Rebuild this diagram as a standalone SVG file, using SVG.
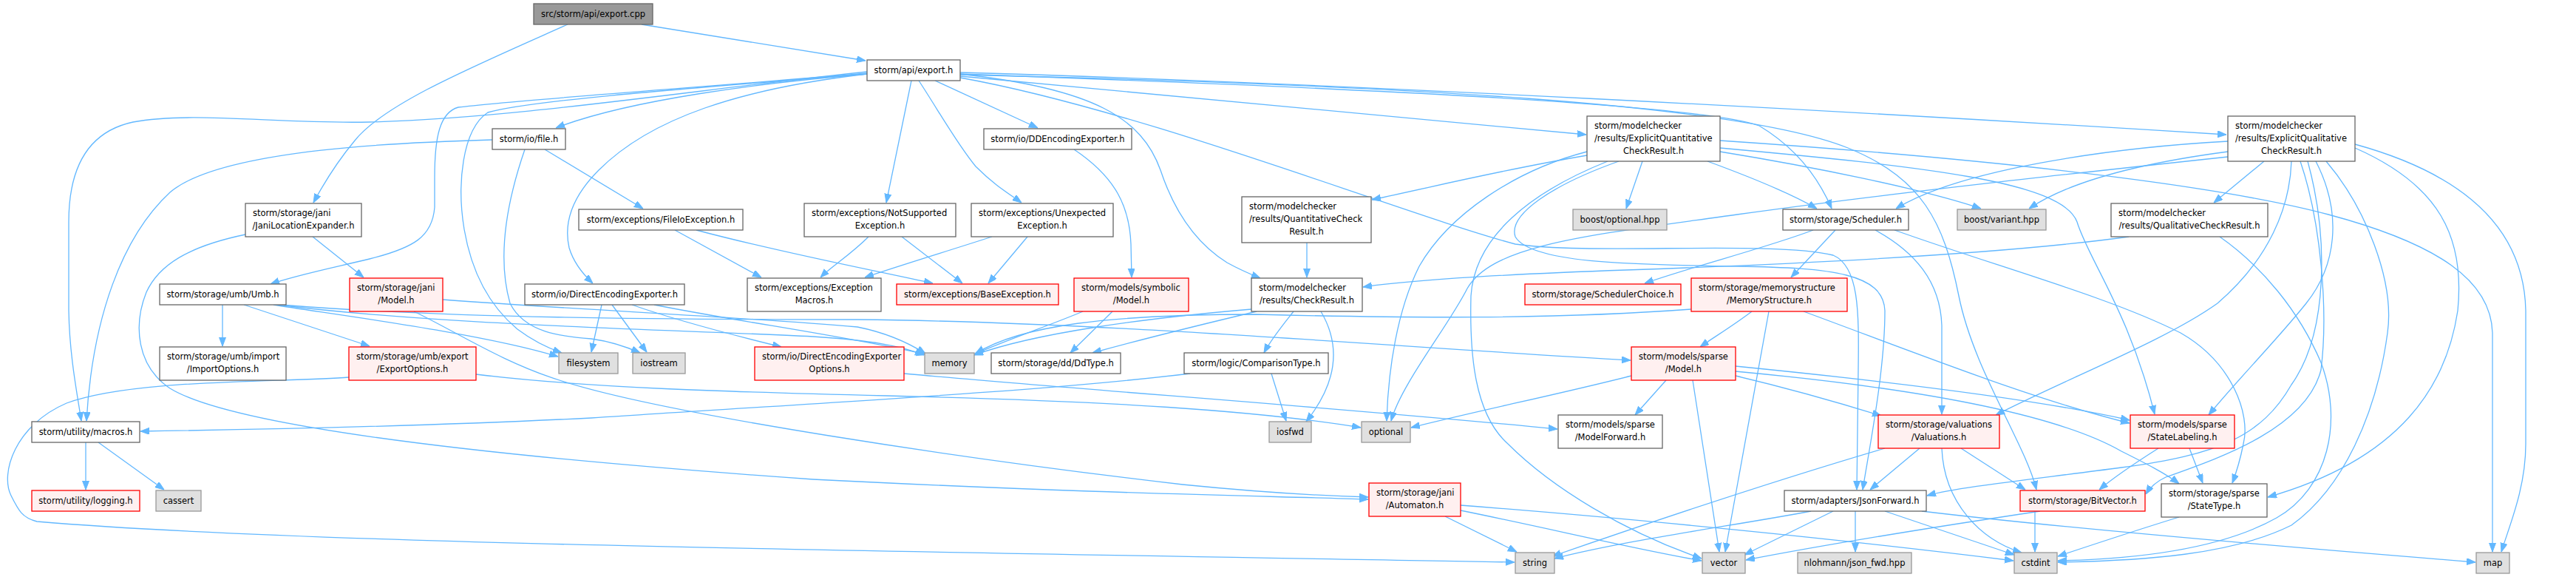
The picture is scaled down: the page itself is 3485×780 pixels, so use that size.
<svg xmlns="http://www.w3.org/2000/svg" width="3485" height="780" viewBox="0 0 3485 780">
<style>
text{font-family:"DejaVu Sans","Liberation Sans",sans-serif;font-size:11.5px;fill:#000}
.m{text-anchor:middle}
.n rect{fill:#fff;stroke:#666;stroke-width:1.3}
.r rect{fill:#fff0f0;stroke:#f00;stroke-width:1.3}
.g rect{fill:#e0e0e0;stroke:#999;stroke-width:1.3}
.root rect{fill:#999;stroke:#666;stroke-width:1.3}
#edges path{fill:none;stroke:#63b8ff;stroke-width:1.3;marker-end:url(#ah)}
</style>
<defs>
<marker id="ah" markerUnits="userSpaceOnUse" markerWidth="12" markerHeight="10" refX="12" refY="4.5" orient="auto"><path d="M0,0 L12,4.5 L0,9 z" fill="#63b8ff" stroke="#63b8ff" stroke-width="1"/></marker>
</defs>
<rect width="3485" height="780" fill="#fff"/>
<g id="edges">
<path d="M868,33 L1171,82"/>
<path d="M768,33 C640,90 520,140 480,190 C455,220 438,248 424,274"/>
<path d="M1173,100 C1030,112 850,135 752,173"/>
<path d="M1173,97 C950,120 700,160 500,165 C380,168 260,150 180,165 C110,180 93,240 93,300 L93,420 C94,480 104,530 110,569"/>
<path d="M1173,99 C950,118 700,135 620,145 C595,152 588,185 588,240 L588,280 C585,320 560,335 500,350 C450,362 400,372 366,384"/>
<path d="M1173,100 C950,118 720,135 660,152 C625,175 618,250 628,310 C640,380 670,420 700,445 C720,460 740,470 760,477"/>
<path d="M1173,100 C1000,120 880,160 810,230 C775,265 762,300 770,335 C776,355 788,370 802,383"/>
<path d="M1233,109 L1199,274"/>
<path d="M1243,109 C1270,150 1295,195 1320,225 C1345,250 1365,262 1382,274"/>
<path d="M1265,109 L1404,173"/>
<path d="M1299,100 C1480,120 1545,160 1570,230 C1590,290 1620,330 1660,355 C1680,366 1695,372 1705,376"/>
<path d="M1299,103 C1600,130 1900,160 2146,182"/>
<path d="M1299,98 C1800,112 2500,150 3012,182"/>
<path d="M1299,100 C1800,118 2300,140 2380,170 C2430,200 2460,240 2478,282"/>
<path d="M1299,105 C1550,150 1900,290 2050,330 C2150,345 2400,325 2480,345 C2515,360 2515,420 2514,500 L2512,662"/>
<path d="M1299,101 C1900,115 2350,140 2500,200 C2600,240 2630,300 2650,400 C2670,500 2740,600 2755,662"/>
<path d="M423,320 L492,375"/>
<path d="M332,317 C255,333 215,358 198,395 C180,440 185,495 230,525 C320,580 700,620 1100,648 C1500,668 1700,670 1851,675"/>
<path d="M560,421 C620,450 680,490 760,515 C900,560 1300,620 1600,655 C1700,665 1780,670 1851,672"/>
<path d="M737,202 L870,282"/>
<path d="M666,189 C560,192 300,200 230,260 C165,320 125,430 117,569"/>
<path d="M710,202 C690,260 670,340 690,410 C710,450 760,455 800,458 C830,462 850,470 866,477"/>
<path d="M913,311 L1030,375"/>
<path d="M942,311 C1050,340 1180,365 1262,383"/>
<path d="M1175,320 C1150,345 1125,360 1110,375"/>
<path d="M1220,320 L1302,383"/>
<path d="M1342,320 C1280,340 1220,358 1170,375"/>
<path d="M1390,320 L1337,383"/>
<path d="M1453,202 C1510,240 1528,280 1530,330 L1531,375"/>
<path d="M2147,210 C2030,230 1950,250 1856,270"/>
<path d="M2222,218 L2200,282"/>
<path d="M2327,205 C2450,225 2600,255 2680,282"/>
<path d="M2310,218 C2370,240 2420,260 2458,282"/>
<path d="M2147,205 C2050,230 1960,290 1920,360 C1890,420 1878,500 1876,569"/>
<path d="M2175,218 C2070,260 1995,320 1990,400 C1988,480 1995,560 2040,600 C2100,660 2200,720 2302,755"/>
<path d="M2190,218 C2100,250 2040,290 2050,320 C2070,355 2200,358 2350,360 C2480,362 2548,370 2550,420 C2550,500 2530,600 2520,662"/>
<path d="M2327,190 C2700,215 3000,250 3150,290 C3300,330 3370,380 3372,450 L3372,746"/>
<path d="M2327,200 C2600,225 2790,245 2810,300 C2825,350 2880,420 2915,560"/>
<path d="M3063,218 L2995,274"/>
<path d="M3014,191 C2850,200 2650,230 2565,282"/>
<path d="M3014,205 C2900,220 2800,245 2745,282"/>
<path d="M3014,212 C2800,235 2550,262 2350,290 C2150,318 2020,330 1985,390 C1960,440 1895,520 1882,569"/>
<path d="M3100,218 C3098,280 3070,350 3000,410 C2930,460 2800,510 2700,561"/>
<path d="M3112,218 C3140,300 3150,420 3140,500 C3120,580 3000,620 2930,645 C2915,652 2908,660 2903,668"/>
<path d="M3133,218 C3170,290 3160,360 3120,410 C3080,460 3030,510 2988,561"/>
<path d="M3186,200 C3300,250 3335,320 3325,420 C3310,520 3250,620 3068,672"/>
<path d="M3186,195 C3350,240 3415,320 3417,420 L3417,600 C3417,660 3395,710 3384,746"/>
<path d="M3147,218 C3200,280 3240,380 3230,450 C3215,560 3170,660 3100,710 C3020,750 2900,758 2784,760"/>
<path d="M3122,218 C3150,320 3150,450 3100,520 C3060,590 3000,615 2870,632 C2750,648 2650,658 2607,670"/>
<path d="M1768,328 L1768,375"/>
<path d="M2880,320 C2700,345 2400,358 2200,365 C2000,372 1900,380 1844,388"/>
<path d="M3003,320 C3060,360 3110,420 3140,490 C3170,570 3150,660 3080,700 C3000,745 2880,756 2784,758"/>
<path d="M301,412 L301,468"/>
<path d="M330,412 L500,468"/>
<path d="M370,412 C450,425 650,450 755,482"/>
<path d="M375,412 C600,440 900,445 1100,455 C1180,460 1220,468 1250,480"/>
<path d="M380,412 C600,430 900,432 1160,432 C1500,435 1900,470 2206,487"/>
<path d="M599,405 C800,420 1000,428 1160,442 C1200,450 1230,464 1252,478"/>
<path d="M814,412 L800,476"/>
<path d="M828,412 L875,476"/>
<path d="M855,412 C920,435 1000,455 1057,469"/>
<path d="M885,412 C1000,435 1150,455 1252,479"/>
<path d="M1223,505 C1500,530 1800,550 2107,580"/>
<path d="M644,506 C800,525 1000,530 1200,535 C1500,542 1700,555 1841,578"/>
<path d="M472,510 C380,517 180,512 90,545 C20,575 0,640 15,670 C25,690 30,700 50,705 C400,735 1200,745 2049,760"/>
<path d="M1465,421 C1420,440 1360,460 1318,479"/>
<path d="M1505,421 L1448,477"/>
<path d="M1693,418 C1550,430 1400,450 1318,480"/>
<path d="M1700,421 C1620,440 1540,460 1478,477"/>
<path d="M1750,421 C1735,440 1720,458 1710,477"/>
<path d="M1787,421 C1810,460 1815,510 1767,570"/>
<path d="M1720,505 L1740,569"/>
<path d="M1610,505 C1400,530 1100,545 800,565 C600,575 400,580 190,583"/>
<path d="M2453,311 C2390,335 2290,360 2225,383"/>
<path d="M2483,311 L2423,375"/>
<path d="M2537,311 C2590,340 2625,380 2627,440 L2627,560"/>
<path d="M2563,311 C2700,360 2850,400 2950,450 C3020,490 3045,560 3035,600 C3030,625 3025,640 3020,653"/>
<path d="M2288,418 C2100,432 1900,430 1700,425 C1500,425 1380,440 1320,478"/>
<path d="M2370,421 C2345,440 2320,455 2300,469"/>
<path d="M2393,421 L2334,746"/>
<path d="M2440,421 C2600,480 2750,540 2881,572"/>
<path d="M2207,508 C2100,535 2000,555 1909,578"/>
<path d="M2254,514 L2212,561"/>
<path d="M2290,514 L2326,746"/>
<path d="M2348,508 C2420,525 2490,545 2545,562"/>
<path d="M2348,495 C2600,520 2780,545 2881,568"/>
<path d="M2348,502 C2650,530 2800,570 2870,610 C2900,625 2930,640 2948,654"/>
<path d="M116,598 L116,662"/>
<path d="M133,598 L222,662"/>
<path d="M2597,606 L2530,662"/>
<path d="M2653,606 L2740,662"/>
<path d="M2627,606 C2630,680 2680,730 2735,747"/>
<path d="M2550,606 C2400,650 2250,700 2100,752"/>
<path d="M2920,606 C2890,625 2860,645 2840,662"/>
<path d="M2962,606 L2980,653"/>
<path d="M1955,698 L2052,746"/>
<path d="M1976,690 C2100,715 2200,740 2302,758"/>
<path d="M1976,683 C2200,700 2500,730 2724,758"/>
<path d="M2450,691 C2350,710 2200,730 2103,755"/>
<path d="M2480,691 L2360,750"/>
<path d="M2510,691 L2510,746"/>
<path d="M2550,691 L2725,750"/>
<path d="M2600,691 C2800,715 3100,740 3349,760"/>
<path d="M2760,691 C2600,715 2450,740 2362,757"/>
<path d="M2753,691 L2753,746"/>
<path d="M2948,699 C2880,720 2820,740 2784,752"/>
</g>
<g id="cpp" class="root"><rect x="722" y="5" width="161" height="28"/><text class="m" x="802.5" y="23">src/storm/api/export.cpp</text></g>
<g id="exph" class="n"><rect x="1173" y="81" width="126" height="28"/><text class="m" x="1236" y="99">storm/api/export.h</text></g>
<g id="file" class="n"><rect x="666" y="174" width="99" height="28"/><text class="m" x="715.5" y="192">storm/io/file.h</text></g>
<g id="ddEnc" class="n"><rect x="1331" y="174" width="200" height="28"/><text class="m" x="1431" y="192">storm/io/DDEncodingExporter.h</text></g>
<g id="expQuant" class="n"><rect x="2147" y="157" width="180" height="61"/><text x="2157" y="174">storm/modelchecker</text><text x="2157" y="191">/results/ExplicitQuantitative</text><text class="m" x="2237" y="208">CheckResult.h</text></g>
<g id="expQual" class="n"><rect x="3014" y="157" width="172" height="61"/><text x="3024" y="174">storm/modelchecker</text><text x="3024" y="191">/results/ExplicitQualitative</text><text class="m" x="3100" y="208">CheckResult.h</text></g>
<g id="janiLoc" class="n"><rect x="332" y="275" width="157" height="45"/><text x="342" y="292">storm/storage/jani</text><text class="m" x="410.5" y="309">/JaniLocationExpander.h</text></g>
<g id="fileIo" class="n"><rect x="783" y="283" width="222" height="28"/><text class="m" x="894" y="301">storm/exceptions/FileIoException.h</text></g>
<g id="notSup" class="n"><rect x="1088" y="275" width="205" height="45"/><text x="1098" y="292">storm/exceptions/NotSupported</text><text class="m" x="1190.5" y="309">Exception.h</text></g>
<g id="unexp" class="n"><rect x="1314" y="275" width="192" height="45"/><text x="1324" y="292">storm/exceptions/Unexpected</text><text class="m" x="1410" y="309">Exception.h</text></g>
<g id="quantCR" class="n"><rect x="1680" y="266" width="175" height="62"/><text x="1690" y="283">storm/modelchecker</text><text x="1690" y="300">/results/QuantitativeCheck</text><text class="m" x="1767.5" y="317">Result.h</text></g>
<g id="boostOpt" class="g"><rect x="2128" y="283" width="127" height="28"/><text class="m" x="2191.5" y="301">boost/optional.hpp</text></g>
<g id="sched" class="n"><rect x="2412" y="283" width="170" height="28"/><text class="m" x="2497" y="301">storm/storage/Scheduler.h</text></g>
<g id="boostVar" class="g"><rect x="2648" y="283" width="120" height="28"/><text class="m" x="2708" y="301">boost/variant.hpp</text></g>
<g id="qualCR" class="n"><rect x="2856" y="275" width="212" height="45"/><text x="2866" y="292">storm/modelchecker</text><text class="m" x="2962" y="309">/results/QualitativeCheckResult.h</text></g>
<g id="umb" class="n"><rect x="216" y="384" width="171" height="28"/><text class="m" x="301.5" y="402">storm/storage/umb/Umb.h</text></g>
<g id="janiModel" class="r"><rect x="473" y="376" width="126" height="45"/><text x="483" y="393">storm/storage/jani</text><text class="m" x="536" y="410">/Model.h</text></g>
<g id="directEnc" class="n"><rect x="710" y="384" width="216" height="28"/><text class="m" x="818" y="402">storm/io/DirectEncodingExporter.h</text></g>
<g id="excMacros" class="n"><rect x="1011" y="376" width="181" height="45"/><text x="1021" y="393">storm/exceptions/Exception</text><text class="m" x="1101.5" y="410">Macros.h</text></g>
<g id="baseExc" class="r"><rect x="1213" y="384" width="219" height="28"/><text class="m" x="1322.5" y="402">storm/exceptions/BaseException.h</text></g>
<g id="symModel" class="r"><rect x="1453" y="376" width="155" height="45"/><text x="1463" y="393">storm/models/symbolic</text><text class="m" x="1530.5" y="410">/Model.h</text></g>
<g id="checkResult" class="n"><rect x="1693" y="376" width="150" height="45"/><text x="1703" y="393">storm/modelchecker</text><text class="m" x="1768" y="410">/results/CheckResult.h</text></g>
<g id="schedChoice" class="r"><rect x="2063" y="384" width="211" height="28"/><text class="m" x="2168.5" y="402">storm/storage/SchedulerChoice.h</text></g>
<g id="memStruct" class="r"><rect x="2288" y="376" width="211" height="45"/><text x="2298" y="393">storm/storage/memorystructure</text><text class="m" x="2393.5" y="410">/MemoryStructure.h</text></g>
<g id="importOpt" class="n"><rect x="216" y="469" width="171" height="45"/><text x="226" y="486">storm/storage/umb/import</text><text class="m" x="301.5" y="503">/ImportOptions.h</text></g>
<g id="exportOpt" class="r"><rect x="472" y="469" width="172" height="45"/><text x="482" y="486">storm/storage/umb/export</text><text class="m" x="558" y="503">/ExportOptions.h</text></g>
<g id="filesystem" class="g"><rect x="756" y="477" width="80" height="28"/><text class="m" x="796" y="495">filesystem</text></g>
<g id="iostream" class="g"><rect x="856" y="477" width="71" height="28"/><text class="m" x="891.5" y="495">iostream</text></g>
<g id="directEncOpts" class="r"><rect x="1021" y="469" width="202" height="45"/><text x="1031" y="486">storm/io/DirectEncodingExporter</text><text class="m" x="1122" y="503">Options.h</text></g>
<g id="memory" class="g"><rect x="1251" y="477" width="67" height="28"/><text class="m" x="1284.5" y="495">memory</text></g>
<g id="ddType" class="n"><rect x="1341" y="477" width="175" height="28"/><text class="m" x="1428.5" y="495">storm/storage/dd/DdType.h</text></g>
<g id="comparisonType" class="n"><rect x="1602" y="477" width="195" height="28"/><text class="m" x="1699.5" y="495">storm/logic/ComparisonType.h</text></g>
<g id="sparseModel" class="r"><rect x="2207" y="469" width="141" height="45"/><text x="2217" y="486">storm/models/sparse</text><text class="m" x="2277.5" y="503">/Model.h</text></g>
<g id="macros" class="n"><rect x="43" y="570" width="146" height="28"/><text class="m" x="116" y="588">storm/utility/macros.h</text></g>
<g id="iosfwd" class="g"><rect x="1717" y="570" width="57" height="28"/><text class="m" x="1745.5" y="588">iosfwd</text></g>
<g id="optional" class="g"><rect x="1842" y="570" width="66" height="28"/><text class="m" x="1875" y="588">optional</text></g>
<g id="modelForward" class="n"><rect x="2108" y="561" width="141" height="45"/><text x="2118" y="578">storm/models/sparse</text><text class="m" x="2178.5" y="595">/ModelForward.h</text></g>
<g id="valuations" class="r"><rect x="2541" y="561" width="164" height="45"/><text x="2551" y="578">storm/storage/valuations</text><text class="m" x="2623" y="595">/Valuations.h</text></g>
<g id="stateLabeling" class="r"><rect x="2882" y="561" width="141" height="45"/><text x="2892" y="578">storm/models/sparse</text><text class="m" x="2952.5" y="595">/StateLabeling.h</text></g>
<g id="automaton" class="r"><rect x="1852" y="653" width="124" height="45"/><text x="1862" y="670">storm/storage/jani</text><text class="m" x="1914" y="687">/Automaton.h</text></g>
<g id="stateType" class="n"><rect x="2924" y="654" width="143" height="45"/><text x="2934" y="671">storm/storage/sparse</text><text class="m" x="2995.5" y="688">/StateType.h</text></g>
<g id="logging" class="r"><rect x="43" y="663" width="146" height="28"/><text class="m" x="116" y="681">storm/utility/logging.h</text></g>
<g id="cassert" class="g"><rect x="211" y="663" width="61" height="28"/><text class="m" x="241.5" y="681">cassert</text></g>
<g id="jsonFwd" class="n"><rect x="2414" y="663" width="192" height="28"/><text class="m" x="2510" y="681">storm/adapters/JsonForward.h</text></g>
<g id="bitVector" class="r"><rect x="2733" y="663" width="169" height="28"/><text class="m" x="2817.5" y="681">storm/storage/BitVector.h</text></g>
<g id="string" class="g"><rect x="2050" y="747" width="53" height="28"/><text class="m" x="2076.5" y="765">string</text></g>
<g id="vector" class="g"><rect x="2303" y="747" width="58" height="28"/><text class="m" x="2332" y="765">vector</text></g>
<g id="nlohmann" class="g"><rect x="2432" y="747" width="154" height="28"/><text class="m" x="2509" y="765">nlohmann/json_fwd.hpp</text></g>
<g id="cstdint" class="g"><rect x="2725" y="747" width="58" height="28"/><text class="m" x="2754" y="765">cstdint</text></g>
<g id="map" class="g"><rect x="3350" y="747" width="45" height="28"/><text class="m" x="3372.5" y="765">map</text></g>
</svg>
